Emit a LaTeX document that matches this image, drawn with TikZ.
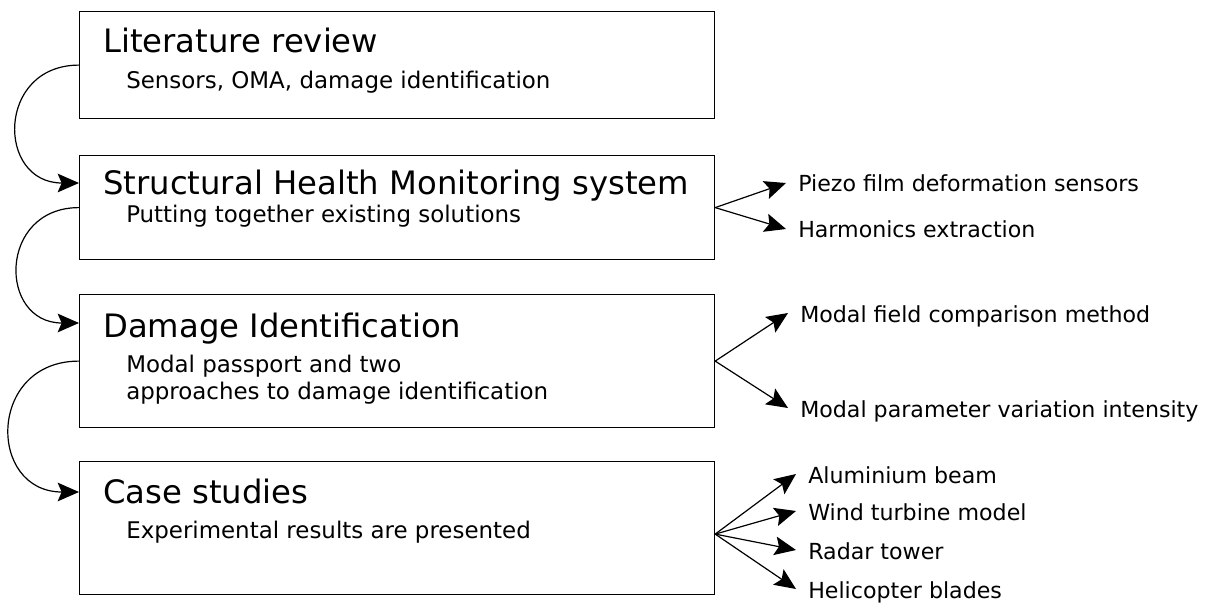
\documentclass[tikz,border=0pt]{standalone}
\usepackage{fontspec}
\setmainfont{DejaVu Sans}
\usepackage{amsmath}
\usepackage{tikz}
\usetikzlibrary{arrows.meta, positioning}
\usetikzlibrary{calc}

\begin{document}
\begin{tikzpicture}
        [
            x=0.75pt, y=-0.75pt,
            box/.style={draw, line width=0.9pt, anchor=north west, inner sep=0pt, minimum width=476.25pt},
            title/.style={anchor=base west, inner sep=0pt, font=\fontsize{24.2}{29}\selectfont},
            sub/.style={anchor=base west, inner sep=0pt, align=left, font=\fontsize{17.2}{20.25}\selectfont},
            lbl/.style={anchor=west, inner xsep=9pt, inner ysep=0pt, text height=13.5pt, text depth=0pt, font=\fontsize{16.6}{19}\selectfont},
            tip/.style={-{Stealth[length=16pt, width=14pt, inset=3pt]}, line width=0.9pt},
        ]
        \useasboundingbox (0,0) rectangle (1228,606);
        \node[box, minimum height=80.25pt] (lit) at (79,11) {};
        \node[box, minimum height=78pt] (shm) at (79,155) {};
        \node[box, minimum height=99.75pt] (dmg) at (79,294) {};
        \node[box, minimum height=99.75pt] (cas) at (79,461) {};

        \node[title] (lit-t) at ([shift={(24,42)}]lit.north west) {Literature review};
        \node[sub] (lit-s) at ([shift={(47,78)}]lit.north west) {Sensors, OMA, damage identification};
        \node[title] (shm-t) at ([shift={(24,40)}]shm.north west) {Structural Health Monitoring system};
        \node[sub] (shm-s) at ([shift={(47,68)}]shm.north west) {Putting together existing solutions};
        \node[title] (dmg-t) at ([shift={(24,43)}]dmg.north west) {Damage Identification};
        \node[sub] (dmg-s) at ([shift={(47,105)}]dmg.north west) {Modal passport and two\\approaches to damage identification};
        \node[title] (cas-t) at ([shift={(24,42)}]cas.north west) {Case studies};
        \node[sub] (cas-s) at ([shift={(47,77)}]cas.north west) {Experimental results are presented};

        \draw[tip] (lit.west) to[out=180, in=180, looseness=1.8] ([shift={(0,28)}]shm.north west);
        \draw[tip] (shm.west) to[out=180, in=180, looseness=1.8] ([shift={(0,29)}]dmg.north west);
        \draw[tip] (dmg.west) to[out=180, in=180, looseness=1.8] ([shift={(0,31)}]cas.north west);

        \node[lbl] (piezo) at (786,183) {Piezo film deformation sensors};
        \node[lbl] (harm) at (786,229) {Harmonics extraction};
        \node[lbl] (field) at (788,313) {Modal field comparison method};
        \node[lbl] (param) at (788,408) {Modal parameter variation intensity};
        \node[lbl] (alu) at (796,474) {Aluminium beam};
        \node[lbl] (wind) at (796,511) {Wind turbine model};
        \node[lbl] (radar) at (796,550) {Radar tower};
        \node[lbl] (heli) at (796,589) {Helicopter blades};

        \draw[tip] (shm.east) -- (piezo.west);
        \draw[tip] (shm.east) -- (harm.west);
        \draw[tip] (dmg.east) -- (field.west);
        \draw[tip] (dmg.east) -- (param.west);
        \coordinate (fan) at ([shift={(0,6)}]cas.east);
        \draw[tip] (fan) -- (alu.west);
        \draw[tip] (fan) -- (wind.west);
        \draw[tip] (fan) -- (radar.west);
        \draw[tip] (fan) -- (heli.west);
    \end{tikzpicture}
\end{document}
